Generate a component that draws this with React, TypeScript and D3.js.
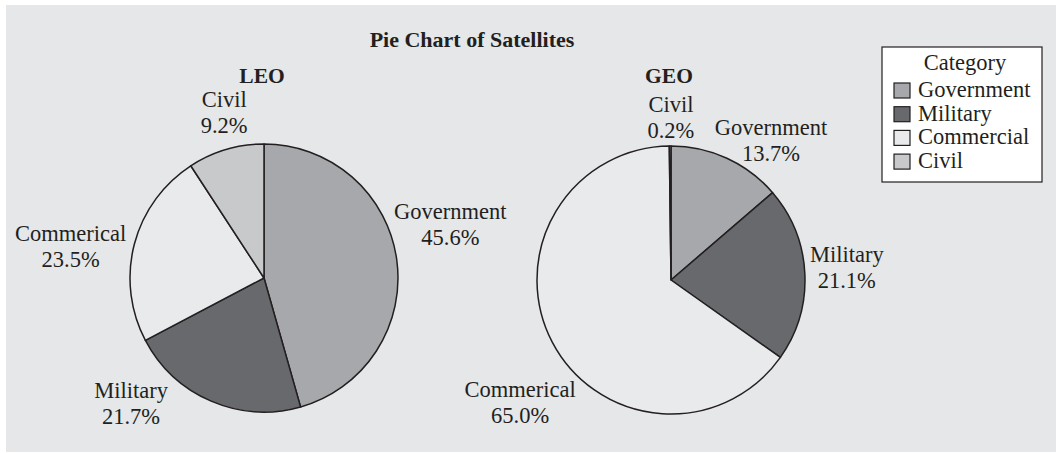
import React from 'react'
import * as d3 from 'd3'

// data
const categories = ['Government', 'Military', 'Commercial', 'Civil']
const sliceLabels = ['Government', 'Military', 'Commerical', 'Civil']
const leoValues = [45.6, 21.7, 23.5, 9.2]
const geoValues = [13.7, 21.1, 65.0, 0.2]

const colors = ['#a7a8ab', '#68696d', '#e9eaec', '#c8c9cb']
const font = '"Liberation Serif", "Times New Roman", serif'

// label nudges off the default label arc (manual placement like the original)
const leoNudges = [[13, -29], [-64, -35], [-24, 13], [10, 3]]
const geoNudges = [[27, 20], [1, -4], [4, 42], [1, 13]]

const W = 1056
const H = 453
const radius = 134
const labelRadius = 175

const color = d3.scaleOrdinal<string, string>().domain(categories).range(colors)

function Pie({ title, values, cx, cy, nudges }) {
  const rows = values.map((v, i) => ({ key: categories[i], label: sliceLabels[i], value: v }))
  const pie = d3.pie<any>().sort(null).value(d => d.value)
  const arcs = pie(rows)
  const arc = d3.arc<any>().innerRadius(0).outerRadius(radius)
  const labelArc = d3.arc<any>().innerRadius(labelRadius).outerRadius(labelRadius)

  return (
    <g transform={`translate(${cx}, ${cy})`}>
      <text x={-2} y={83 - cy} textAnchor="middle" fontWeight="bold" fontSize={21.5}>{title}</text>
      {arcs.map((a) => (
        <path key={a.data.key} d={arc(a)} fill={color(a.data.key)}
          stroke="#231f20" strokeWidth={1.5} strokeLinejoin="round" />
      ))}
      {arcs.map((a, i) => {
        const [lx, ly] = labelArc.centroid(a)
        const x = lx + nudges[i][0]
        const y = ly + nudges[i][1]
        return (
          <text key={a.data.key} x={x} y={y} textAnchor="middle" fontSize={22.5} fill="#231f20">
            <tspan x={x} dy={-6}>{a.data.label}</tspan>
            <tspan x={x} dy={26}>{a.data.value.toFixed(1)}%</tspan>
          </text>
        )
      })}
    </g>
  )
}

function Legend({ x, y }) {
  const rowH = 23.7
  return (
    <g transform={`translate(${x}, ${y})`}>
      <rect x={0} y={0} width={160} height={135} fill="#ffffff" stroke="#231f20" strokeWidth={1.2} />
      <text x={83} y={23} textAnchor="middle" fontSize={22.5}>Category</text>
      {categories.map((c, i) => (
        <g key={c} transform={`translate(0, ${36 + i * rowH})`}>
          <rect x={12} y={0} width={16} height={15} fill={color(c)} stroke="#231f20" strokeWidth={1.2} />
          <text x={36} y={14} fontSize={22.5}>{c}</text>
        </g>
      ))}
    </g>
  )
}

export default function App() {
  return (
    <svg width={W} height={H} style={{ position: 'absolute', left: 0, top: 0, display: 'block' }}
      fontFamily={font} fill="#231f20">
      <rect x={0} y={0} width={W} height={H} fill="#ffffff" />
      <rect x={6} y={5} width={W - 6} height={447} fill="#e6e7e9" />
      <text x={472} y={47} textAnchor="middle" fontWeight="bold" fontSize={22}>Pie Chart of Satellites</text>
      <Pie title="LEO" values={leoValues} cx={264} cy={278} nudges={leoNudges} />
      <Pie title="GEO" values={geoValues} cx={671} cy={280} nudges={geoNudges} />
      <Legend x={882} y={47} />
    </svg>
  )
}
